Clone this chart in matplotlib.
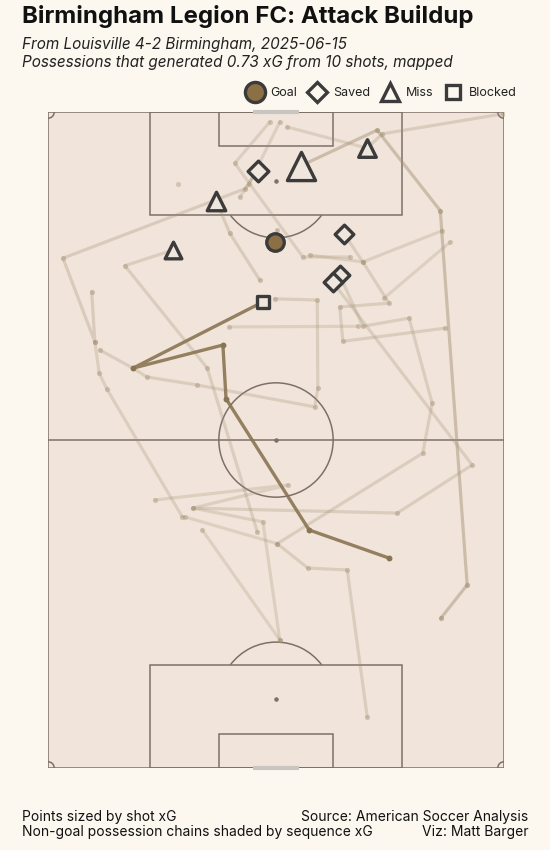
import matplotlib
matplotlib.use("Agg")
import matplotlib.pyplot as plt
import numpy as np
from matplotlib import font_manager
from matplotlib.patches import Rectangle, Arc, Circle
from matplotlib.lines import Line2D

# pitch size in metres (x across, y toward attacking goal)
PITCH_W = 73.0
PITCH_L = 105.0

# shots: position, outcome, xG
shot_x = [36.3, 33.6, 47.4, 46.7, 45.6, 40.5, 51.1, 26.9, 20.0, 34.4]
shot_y = [84.2, 95.6, 85.5, 78.9, 77.8, 96.4, 99.2, 90.8, 82.9, 74.6]
shot_outcome = ["Goal", "Saved", "Saved", "Saved", "Saved",
                "Miss", "Miss", "Miss", "Miss", "Blocked"]
shot_xg = [0.09, 0.07, 0.05, 0.05, 0.05, 0.21, 0.06, 0.07, 0.05, 0.03]

# goal possession chain
goal_chain_x = [54.6, 41.8, 28.5, 28.0, 13.6, 34.4]
goal_chain_y = [33.6, 38.1, 59.1, 67.7, 64.0, 74.6]

# other possession chains and their sequence xG
chain_x = [
    [62.9, 67.1, 62.8, 52.7, 40.5],
    [72.8, 53.5, 51.1],
    [7.0, 7.5, 2.4, 31.5, 33.6],
    [23.2, 55.9, 67.9, 45.6],
    [51.1, 47.9, 41.6, 36.7, 60.0, 61.5, 57.8, 50.4, 46.7],
    [63.6, 47.2, 46.7, 54.6, 50.4, 47.4],
    [37.1, 34.4, 23.2, 38.4, 17.1],
    [37.1, 24.7],
    [21.5, 9.4, 8.2, 7.5],
    [21.9, 36.7],
    [8.3, 13.6, 15.8, 23.9, 42.7, 43.2, 43.1, 36.3],
    [33.5, 25.5, 12.3, 20.0],
    [33.9, 29.1, 26.9],
    [35.5, 29.9, 40.8, 48.3],
    [38.3, 51.1],
    [37.1, 32.2, 30.7],
    [20.8],
    [36.7, 36.3],
    [64.4, 53.8],
    [63.1, 50.4, 41.9],
    [29.0, 49.6],
]
chain_y = [
    [24.0, 29.3, 89.2, 102.1, 96.4],
    [104.7, 101.5, 99.2],
    [76.2, 68.2, 81.6, 92.7, 95.6],
    [41.6, 40.8, 48.5, 77.8],
    [8.2, 31.7, 32.0, 35.9, 50.4, 58.4, 72.0, 70.7, 78.9],
    [70.4, 68.3, 73.8, 74.4, 81.0, 85.5],
    [20.5, 39.4, 41.6, 45.3, 42.9],
    [20.5, 38.1],
    [40.2, 60.7, 63.2, 68.2],
    [40.2, 35.9],
    [66.9, 64.0, 62.6, 61.3, 57.8, 60.8, 74.9, 75.1],
    [37.8, 64.0, 80.4, 82.9],
    [78.1, 85.6, 90.8],
    [103.4, 96.8, 81.8, 81.8],
    [102.6, 99.2],
    [103.4, 93.5, 91.4],
    [93.5],
    [86.1, 84.2],
    [84.2, 75.2],
    [86.0, 81.0, 82.1],
    [70.6, 70.7],
]
chain_xg = [0.21, 0.06, 0.07, 0.05, 0.05, 0.05, 0.03, 0.02, 0.04, 0.02,
            0.05, 0.05, 0.07, 0.04, 0.04, 0.03, 0.01, 0.02, 0.02, 0.03, 0.02]

FIG_BG = "#fdf8ef"
PITCH_BG = "#f1e5db"
LINE_C = "#7d7068"
CHAIN_C = "#a39073"
GOAL_CHAIN_C = "#8a7553"
EDGE_C = "#3b3b3b"


def pick_family(cands, italic=False):
    names = {}
    for f in font_manager.fontManager.ttflist:
        names.setdefault(f.name, set()).add(f.style)
    for c in cands:
        if c in names and (not italic or "italic" in names[c] or "oblique" in names[c]):
            return c
    return "DejaVu Sans"


fam = pick_family(["Inter", "Roboto", "Lato", "Open Sans", "Noto Sans"])
fam_it = pick_family(["Inter", "Roboto", "Lato", "Open Sans", "Noto Sans"], italic=True)
plt.rcParams["font.family"] = [fam, "DejaVu Sans"]

fig = plt.figure(figsize=(5.5, 8.5), dpi=100, facecolor=FIG_BG)
ax = fig.add_axes([48 / 550, 1 - 768 / 850, 456 / 550, 656 / 850])
ax.set_xlim(0, PITCH_W)
ax.set_ylim(0, PITCH_L)
ax.axis("off")

# pitch
lw = 1.1
ax.add_patch(Rectangle((0, 0), PITCH_W, PITCH_L, facecolor=PITCH_BG,
                       edgecolor=LINE_C, lw=lw, zorder=0))
mid = PITCH_W / 2
ax.plot([0, PITCH_W], [PITCH_L / 2] * 2, color=LINE_C, lw=lw, zorder=1)
ax.add_patch(Circle((mid, PITCH_L / 2), 9.15, fill=False, ec=LINE_C, lw=lw, zorder=1))
ax.scatter([mid, mid, mid], [PITCH_L / 2, 11, PITCH_L - 11], s=5, color=LINE_C, zorder=1)
for y0, sgn in [(0, 1), (PITCH_L, -1)]:
    ax.add_patch(Rectangle((mid - 20.16, y0), 40.32, sgn * 16.5, fill=False,
                           ec=LINE_C, lw=lw, zorder=1))
    ax.add_patch(Rectangle((mid - 9.16, y0), 18.32, sgn * 5.5, fill=False,
                           ec=LINE_C, lw=lw, zorder=1))
    ax.plot([mid - 3.66, mid + 3.66], [y0] * 2, color="#c9c6c2",
            lw=3, zorder=1, clip_on=False, solid_capstyle="butt")
ax.add_patch(Arc((mid, 11), 18.3, 18.3, theta1=36.9, theta2=143.1, ec=LINE_C, lw=lw, zorder=1))
ax.add_patch(Arc((mid, PITCH_L - 11), 18.3, 18.3, theta1=216.9, theta2=323.1,
                 ec=LINE_C, lw=lw, zorder=1))
for cx, cy, t1 in [(0, 0, 0), (PITCH_W, 0, 90), (PITCH_W, PITCH_L, 180), (0, PITCH_L, 270)]:
    ax.add_patch(Arc((cx, cy), 2, 2, theta1=t1, theta2=t1 + 90, ec=LINE_C, lw=lw, zorder=1))

# chains, shaded by sequence xG
xg_max = max(chain_xg)
for xs, ys, xg in zip(chain_x, chain_y, chain_xg):
    a = 0.22 + 0.25 * xg / xg_max
    ax.plot(xs, ys, color=CHAIN_C, lw=2.3, alpha=a, zorder=2, solid_capstyle="round")
    ax.scatter(xs, ys, s=14, color=CHAIN_C, alpha=min(a + 0.15, 1), lw=0, zorder=2)

ax.plot(goal_chain_x, goal_chain_y, color=GOAL_CHAIN_C, lw=2.4, alpha=0.9, zorder=3)
ax.scatter(goal_chain_x, goal_chain_y, s=18, color=GOAL_CHAIN_C, lw=0, zorder=3)

# shots
markers = {"Goal": "o", "Saved": "D", "Miss": "^", "Blocked": "s"}
face = {"Goal": "#8c7045", "Saved": "#efe6dd", "Miss": "#efe6dd", "Blocked": "#efe6dd"}
size_adj = {"Goal": 0.9, "Saved": 0.75, "Miss": 1.2, "Blocked": 0.9}
for x, y, oc, xg in zip(shot_x, shot_y, shot_outcome, shot_xg):
    ax.scatter(x, y, s=(50 + 1400 * xg) * size_adj[oc], marker=markers[oc],
               facecolor=face[oc], edgecolor=EDGE_C, lw=2.4, zorder=5, clip_on=False)

# titles
fig.text(22 / 550, 1 - 17 / 850, "Birmingham Legion FC: Attack Buildup", fontsize=17.3,
         fontweight="bold", color="#111111", va="center", ha="left")
fig.text(22 / 550, 1 - 44 / 850, "From Louisville 4-2 Birmingham, 2025-06-15",
         fontsize=11, style="italic", family=[fam_it, "DejaVu Sans"],
         color="#222222", va="center", ha="left")
fig.text(22 / 550, 1 - 62 / 850, "Possessions that generated 0.73 xG from 10 shots, mapped",
         fontsize=11, style="italic", family=[fam_it, "DejaVu Sans"],
         color="#222222", va="center", ha="left")

handles = [
    Line2D([], [], marker="o", ls="", ms=14.5, mfc="#8c7045", mec=EDGE_C, mew=2.4),
    Line2D([], [], marker="D", ls="", ms=10, mfc=FIG_BG, mec=EDGE_C, mew=2.4),
    Line2D([], [], marker="^", ls="", ms=13, mfc=FIG_BG, mec=EDGE_C, mew=2.4),
    Line2D([], [], marker="s", ls="", ms=10, mfc=FIG_BG, mec=EDGE_C, mew=2.4),
]
fig.legend(handles, ["Goal", "Saved", "Miss", "Blocked"], ncol=4, frameon=False,
           loc="center right", bbox_to_anchor=(528 / 550, 1 - 93 / 850),
           fontsize=9, handletextpad=0.55, columnspacing=0.9, handlelength=1.4,
           labelcolor="#222222")

# footer
foot = dict(fontsize=10, color="#111111", va="center")
fig.text(22 / 550, 1 - 817 / 850, "Points sized by shot xG", ha="left", **foot)
fig.text(22 / 550, 1 - 832 / 850, "Non-goal possession chains shaded by sequence xG", ha="left", **foot)
fig.text(528 / 550, 1 - 817 / 850, "Source: American Soccer Analysis", ha="right", **foot)
fig.text(528 / 550, 1 - 832 / 850, "Viz: Matt Barger", ha="right", **foot)

fig.savefig("out.png", dpi=100, facecolor=FIG_BG)
